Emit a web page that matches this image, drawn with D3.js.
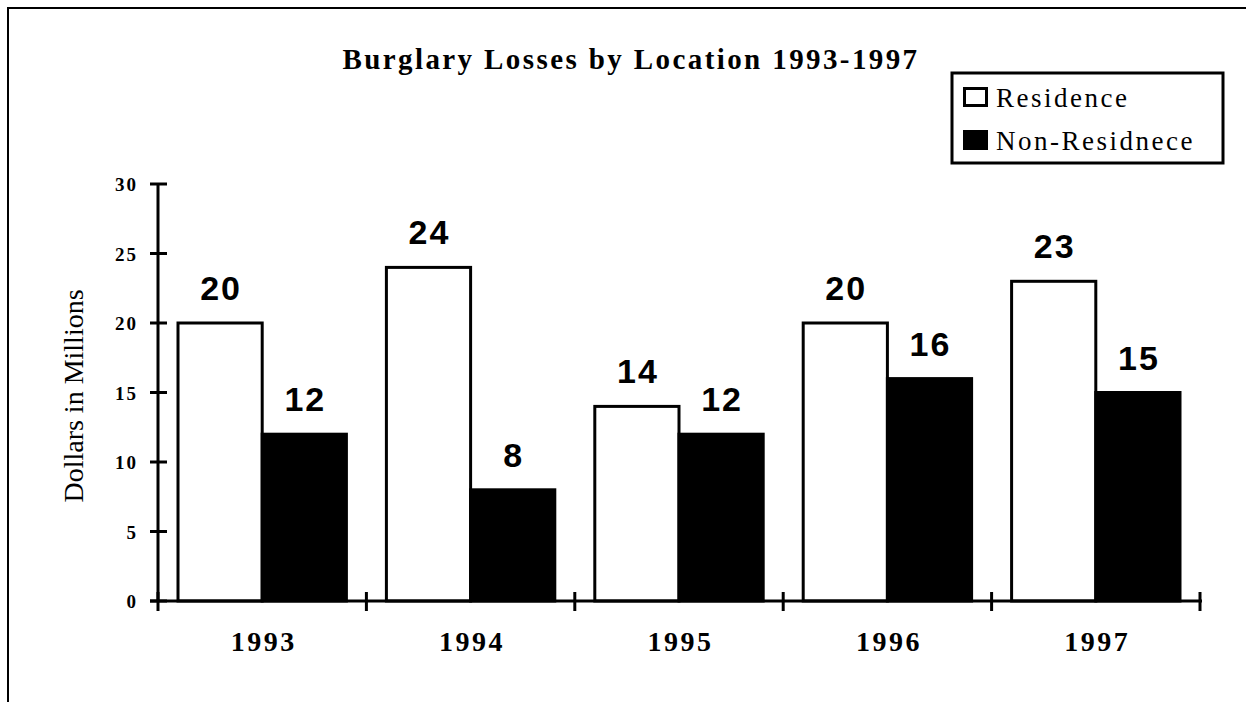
<!DOCTYPE html>
<html>
<head>
<meta charset="utf-8">
<script src="https://cdn.jsdelivr.net/npm/d3@7"></script>
<style>
  body { margin: 0; background: #fff; }
  svg { display: block; }
  .serif { font-family: "Liberation Serif", "Times New Roman", serif; }
  .sans { font-family: "Liberation Sans", Arial, sans-serif; }
</style>
</head>
<body>
<svg class="chart"></svg>
<script>
// chart data
var years = ["1993", "1994", "1995", "1996", "1997"];
var series = ["Residence", "Non-Residnece"];
var residence = [20, 24, 14, 20, 23];
var nonResidence = [12, 8, 12, 16, 15];
var yTicks = [0, 5, 10, 15, 20, 25, 30];

var W = 1246, H = 702;

var svg = d3.select(".chart")
    .attr("width", W)
    .attr("height", H);

// outer frame, runs off the page right and bottom
svg.append("rect")
    .attr("x", 8).attr("y", 8)
    .attr("width", W + 20).attr("height", H + 20)
    .attr("fill", "#fff")
    .attr("stroke", "#000")
    .attr("stroke-width", 2);

var x0 = d3.scaleBand().domain(years).range([158, 1200]);
var x1 = d3.scaleBand().domain(series).range([20, x0.bandwidth() - 20]);
var y = d3.scaleLinear().domain([0, 30]).range([601, 184]);

var rows = years.map(function(d, i) {
    return {year: d, values: [
        {key: series[0], value: residence[i]},
        {key: series[1], value: nonResidence[i]}
    ]};
});

// title
svg.append("text")
    .attr("class", "serif")
    .attr("x", 631).attr("y", 69)
    .attr("text-anchor", "middle")
    .attr("font-size", 29)
    .attr("font-weight", "bold")
    .attr("letter-spacing", 2.4)
    .text("Burglary Losses by Location 1993-1997");

// bars
var groups = svg.selectAll(".group")
    .data(rows).enter().append("g")
    .attr("class", "group")
    .attr("transform", function(d) { return "translate(" + x0(d.year) + ",0)"; });

groups.selectAll("rect")
    .data(function(d) { return d.values; }).enter().append("rect")
    .attr("x", function(d) { return x1(d.key); })
    .attr("y", function(d) { return y(d.value); })
    .attr("width", x1.bandwidth())
    .attr("height", function(d) { return y(0) - y(d.value); })
    .attr("fill", function(d) { return d.key === series[0] ? "#fff" : "#000"; })
    .attr("stroke", "#000")
    .attr("stroke-width", 3);

// value labels
groups.selectAll(".val")
    .data(function(d) { return d.values; }).enter().append("text")
    .attr("class", "val sans")
    .attr("x", function(d) { return x1(d.key) + x1.bandwidth() / 2 + 1; })
    .attr("y", function(d) { return y(d.value) - 23; })
    .attr("text-anchor", "middle")
    .attr("font-size", 34)
    .attr("font-weight", "bold")
    .attr("letter-spacing", 2)
    .text(function(d) { return d.value; });

// y axis
svg.append("line")
    .attr("x1", 158).attr("x2", 158)
    .attr("y1", y(30)).attr("y2", y(0))
    .attr("stroke", "#000").attr("stroke-width", 3);

svg.selectAll(".ytick")
    .data(yTicks).enter().append("line")
    .attr("x1", 150).attr("x2", 167)
    .attr("y1", function(d) { return y(d); })
    .attr("y2", function(d) { return y(d); })
    .attr("stroke", "#000").attr("stroke-width", 3);

svg.selectAll(".ylab")
    .data(yTicks).enter().append("text")
    .attr("class", "serif")
    .attr("x", 138)
    .attr("y", function(d) { return y(d) + 7; })
    .attr("text-anchor", "end")
    .attr("font-size", 19)
    .attr("font-weight", "bold")
    .attr("letter-spacing", 2)
    .text(function(d) { return d; });

svg.append("text")
    .attr("class", "serif")
    .attr("transform", "translate(83,396) rotate(-90)")
    .attr("text-anchor", "middle")
    .attr("font-size", 28)
    .text("Dollars in Millions");

// x axis
svg.append("line")
    .attr("x1", 150).attr("x2", 1202)
    .attr("y1", y(0)).attr("y2", y(0))
    .attr("stroke", "#000").attr("stroke-width", 3);

var edges = years.map(function(d) { return x0(d); }).concat([x0.range()[1]]);
svg.selectAll(".xtick")
    .data(edges).enter().append("line")
    .attr("x1", function(d) { return d; })
    .attr("x2", function(d) { return d; })
    .attr("y1", 592).attr("y2", 611)
    .attr("stroke", "#000").attr("stroke-width", 3);

svg.selectAll(".xlab")
    .data(years).enter().append("text")
    .attr("class", "serif")
    .attr("x", function(d) { return x0(d) + x0.bandwidth() / 2 + 1.5; })
    .attr("y", 651)
    .attr("text-anchor", "middle")
    .attr("font-size", 28)
    .attr("font-weight", "bold")
    .attr("letter-spacing", 2.5)
    .text(function(d) { return d; });

// legend
var legend = svg.append("g").attr("transform", "translate(952,73)");
legend.append("rect")
    .attr("width", 271).attr("height", 90)
    .attr("fill", "#fff")
    .attr("stroke", "#000").attr("stroke-width", 3);

var items = legend.selectAll(".item")
    .data(series).enter().append("g")
    .attr("transform", function(d, i) { return "translate(0," + (i * 43) + ")"; });

items.append("rect")
    .attr("x", 12.5).attr("y", 15.5)
    .attr("width", 22).attr("height", 17)
    .attr("fill", function(d, i) { return i === 0 ? "#fff" : "#000"; })
    .attr("stroke", "#000").attr("stroke-width", 3);

items.append("text")
    .attr("class", "serif")
    .attr("x", 44).attr("y", 34)
    .attr("font-size", 27)
    .attr("letter-spacing", 2.5)
    .text(function(d) { return d; });
</script>
</body>
</html>
